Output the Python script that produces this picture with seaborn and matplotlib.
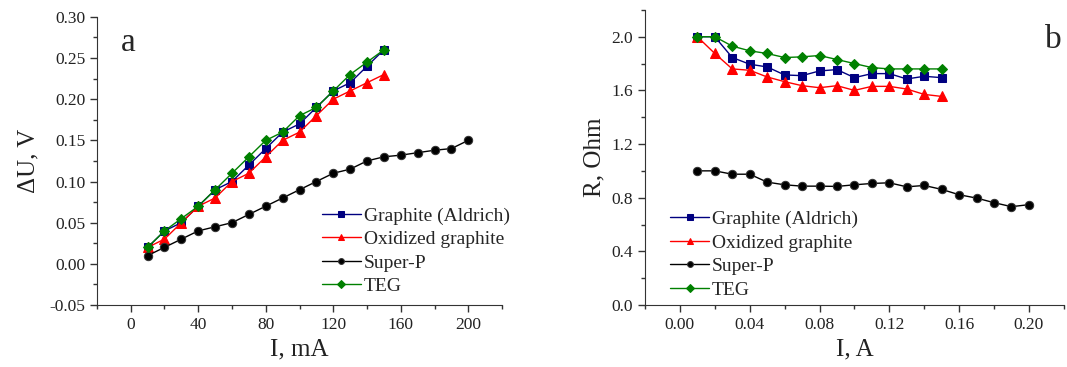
import numpy as np
import pandas as pd
import matplotlib
matplotlib.use("Agg")
import matplotlib.pyplot as plt
from matplotlib.ticker import MultipleLocator, FormatStrFormatter
import seaborn as sns

# ---- data: panel a (ΔU vs I, mA)
I_a = [10, 20, 30, 40, 50, 60, 70, 80, 90, 100, 110, 120, 130, 140, 150]
I_a_superp = [10, 20, 30, 40, 50, 60, 70, 80, 90, 100, 110, 120, 130, 140, 150, 160, 170, 180, 190, 200]
dU_graphite = [0.02, 0.04, 0.05, 0.07, 0.09, 0.10, 0.12, 0.14, 0.16, 0.17, 0.19, 0.21, 0.22, 0.24, 0.26]
dU_oxidized = [0.02, 0.03, 0.05, 0.07, 0.08, 0.10, 0.11, 0.13, 0.15, 0.16, 0.18, 0.20, 0.21, 0.22, 0.23]
dU_superp = [0.01, 0.02, 0.03, 0.04, 0.045, 0.05, 0.06, 0.07, 0.08, 0.09, 0.10, 0.11, 0.115, 0.125,
             0.13, 0.132, 0.135, 0.138, 0.14, 0.15]
dU_teg = [0.02, 0.04, 0.055, 0.07, 0.09, 0.11, 0.13, 0.15, 0.16, 0.18, 0.19, 0.21, 0.23, 0.245, 0.26]

# ---- data: panel b (R vs I, A)
I_b = [0.01, 0.02, 0.03, 0.04, 0.05, 0.06, 0.07, 0.08, 0.09, 0.10, 0.11, 0.12, 0.13, 0.14, 0.15]
I_b_superp = [0.01, 0.02, 0.03, 0.04, 0.05, 0.06, 0.07, 0.08, 0.09, 0.10, 0.11, 0.12, 0.13, 0.14,
              0.15, 0.16, 0.17, 0.18, 0.19, 0.20]
R_graphite = [2.0, 2.0, 1.845, 1.795, 1.775, 1.715, 1.71, 1.745, 1.755, 1.695, 1.725, 1.725, 1.685, 1.705, 1.695]
R_oxidized = [2.0, 1.875, 1.76, 1.75, 1.70, 1.665, 1.635, 1.62, 1.635, 1.60, 1.63, 1.63, 1.61, 1.57, 1.555]
R_superp = [1.0, 1.0, 0.975, 0.975, 0.916, 0.896, 0.886, 0.886, 0.884, 0.896, 0.906, 0.911, 0.881, 0.891,
            0.862, 0.822, 0.797, 0.763, 0.733, 0.748]
R_teg = [2.0, 2.0, 1.93, 1.895, 1.875, 1.845, 1.85, 1.86, 1.83, 1.80, 1.77, 1.76, 1.76, 1.76, 1.76]

labels = ["Graphite (Aldrich)", "Oxidized graphite", "Super-P", "TEG"]
colors = ["#000080", "#FF0000", "#000000", "#008000"]
markers = ["s", "^", "o", "D"]
msizes = [5.5, 7, 6, 5.5]

sns.set_style("ticks")
plt.rcParams["font.family"] = ["Liberation Serif", "DejaVu Serif"]
plt.rcParams["mathtext.fontset"] = "stix"

fig = plt.figure(figsize=(10.67, 3.67), dpi=100)
ax1 = fig.add_axes([0.0909, 0.169, 0.3796, 0.785])
ax2 = fig.add_axes([0.6045, 0.169, 0.3925, 0.804])

series_a = [(I_a, dU_graphite), (I_a, dU_oxidized), (I_a_superp, dU_superp), (I_a, dU_teg)]
series_b = [(I_b, R_graphite), (I_b, R_oxidized), (I_b_superp, R_superp), (I_b, R_teg)]

for ax, series in ((ax1, series_a), (ax2, series_b)):
    for (x, y), lab, c, m, ms in zip(series, labels, colors, markers, msizes):
        df = pd.DataFrame({"x": x, "y": y})
        sns.lineplot(data=df, x="x", y="y", ax=ax, color=c, marker=m, markersize=ms,
                     markeredgecolor=c if m != "o" else "#333333", linewidth=1.0, label=lab)

# panel a axes
ax1.set_xlim(-20, 220)
ax1.set_ylim(-0.05, 0.30)
ax1.xaxis.set_major_locator(MultipleLocator(40))
ax1.xaxis.set_minor_locator(MultipleLocator(20))
ax1.yaxis.set_major_locator(MultipleLocator(0.05))
ax1.yaxis.set_minor_locator(MultipleLocator(0.025))
ax1.yaxis.set_major_formatter(FormatStrFormatter("%.2f"))
ax1.set_xlabel("I, mA", fontsize=18)
ax1.set_ylabel("ΔU, V", fontsize=18, labelpad=7)
ax1.text(0.06, 0.88, "a", transform=ax1.transAxes, fontsize=24)

# panel b axes
ax2.set_xlim(-0.02, 0.22)
ax2.set_ylim(0.0, 2.2)
ax2.xaxis.set_major_locator(MultipleLocator(0.04))
ax2.xaxis.set_minor_locator(MultipleLocator(0.02))
ax2.yaxis.set_major_locator(MultipleLocator(0.4))
ax2.yaxis.set_minor_locator(MultipleLocator(0.2))
ax2.xaxis.set_major_formatter(FormatStrFormatter("%.2f"))
ax2.yaxis.set_major_formatter(FormatStrFormatter("%.1f"))
ax2.set_xlabel("I, A", fontsize=18)
ax2.set_ylabel("R, Ohm", fontsize=18, labelpad=4)
ax2.text(0.955, 0.87, "b", transform=ax2.transAxes, fontsize=24)

for ax in (ax1, ax2):
    sns.despine(ax=ax)
    ax.spines["left"].set_color("#333333")
    ax.spines["bottom"].set_color("#333333")
    ax.tick_params(axis="both", which="major", direction="out", length=5, width=1,
                   labelsize=12.5, colors="#333333", labelcolor="#222222")
    ax.tick_params(axis="both", which="minor", direction="out", length=3, width=1, colors="#333333")
    ax.xaxis.label.set_color("#222222")
    ax.yaxis.label.set_color("#222222")

leg_kw = dict(frameon=False, fontsize=14, handlelength=2.0, handletextpad=0.15,
              labelspacing=0.3, borderaxespad=0.0, borderpad=0.0, markerscale=0.7)
ax1.legend(loc="upper left", bbox_to_anchor=(0.555, 0.34), **leg_kw)
ax2.legend(loc="upper left", bbox_to_anchor=(0.06, 0.32), **leg_kw)

fig.savefig("out.png", dpi=100)
